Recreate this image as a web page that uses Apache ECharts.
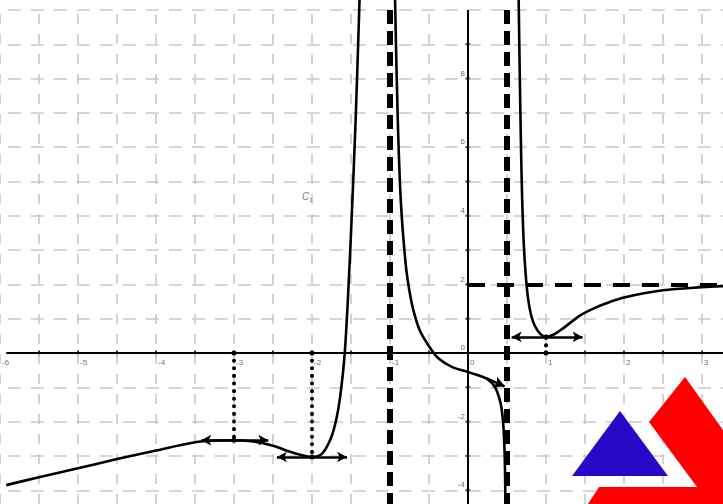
<!DOCTYPE html>
<html><head><meta charset="utf-8">
<script src="https://cdn.jsdelivr.net/npm/echarts@6/dist/echarts.min.js"></script>
<style>html,body{margin:0;padding:0;background:#fff}#c{width:723px;height:504px}</style>
</head><body><div id="c"></div>
<script>
// ---- view window ----
const xMin = -6, xMax = 3.27, yMin = -4.4, yMax = 10.29, gridTop = 10;
// ---- grid & ticks ----
const gridX = [-6,-5.5,-5,-4.5,-4,-3.5,-3,-2.5,-2,-1.5,-1,-0.5,0,0.5,1,1.5,2,2.5,3];
const gridY = [-4,-3,-2,-1,0,1,2,3,4,5,6,7,8,9,10];
const xTicks = [-5.5,-5,-4.5,-4,-3.5,-3,-2.5,-2,-1.5,-1,-0.5,0.5,1,1.5,2,2.5,3];
const yTicks = [-4,-3,-2,-1,1,2,3,4,5,6,7,8,9];
const xTickLabels = ['-6','-5','-4','-3','-2','-1','0','1','2','3'];
const xTickLabelPos = [-6,-5,-4,-3,-2,-1,0,1,2,3];
const yTickLabels = ['-4','-2','0','2','4','6','8'];
const yTickLabelPos = [-4,-2,0,2,4,6,8];
// ---- curve C1 ----
const leftX = [-5.92,-5.5,-5,-4.5,-4,-3.5,-3.25,-3,-2.75,-2.5,-2.25,-2,-1.87,-1.76,-1.69,-1.64,-1.58,-1.53,-1.49,-1.44,-1.39];
const leftY = [-3.85,-3.62,-3.36,-3.09,-2.84,-2.6,-2.55,-2.54,-2.58,-2.7,-2.9,-3.03,-2.93,-2.5,-1.95,-1.3,0,2,4,6.8,10.3];
const midX = [-0.935,-0.9,-0.86,-0.8,-0.75,-0.7,-0.62,-0.5,-0.38,-0.2,0,0.12,0.24];
const midY = [10.3,6.8,4.4,2.63,1.8,1.25,0.67,0.2,-0.15,-0.41,-0.55,-0.64,-0.74];
const downX = [0.24,0.31,0.36,0.40,0.43,0.45,0.465,0.475,0.48];
const downY = [-0.74,-0.88,-1.05,-1.3,-1.6,-2.0,-2.6,-3.4,-4.4];
const rightX = [0.65,0.665,0.68,0.695,0.715,0.74,0.77,0.81,0.86,0.93,1,1.1,1.22,1.44,1.65,1.82,2,2.5,3,3.27];
const rightY = [10.3,8,6,4.5,3.2,2.3,1.6,1.1,0.78,0.55,0.47,0.54,0.72,1.1,1.34,1.49,1.62,1.83,1.92,1.95];
// end arrow of the middle branch
const endArrow = [[0.24,-0.74],[0.47,-0.97]];
// ---- asymptotes ----
const vAsymptotes = [-1, 0.5];
const hAsymptote = 2, hAsymptoteFrom = 0;
// ---- extrema and tangents ----
const extremaX = [-3, -2, 1];
const extremaY = [-2.54, -3.03, 0.47];
const tangentFrom = [-3.42, -2.45, 0.56];
const tangentTo = [-2.56, -1.55, 1.47];
const curveName = 'C';
const curveLabelPos = [-2.06, 4.55];

const zip = (a, b) => a.map((v, i) => [v, b[i]]);
const gridCol = '#c9c9c9';
const ml = (data, lineStyle, extra) => Object.assign({
  silent: true, symbol: 'none', animation: false,
  label: { show: false }, emphasis: { disabled: true },
  lineStyle: lineStyle, data: data
}, extra || {});

const chart = echarts.init(document.getElementById('c'), null, { renderer: 'canvas' });
const series = [];
// grid lines
series.push({ type: 'line', data: [], z: 1,
  markLine: ml(gridX.map(x => [{ coord: [x, yMin] }, { coord: [x, gridTop] }]),
    { color: gridCol, width: 1.6, type: [10, 10] }) });
series.push({ type: 'line', data: [], z: 1,
  markLine: ml(gridY.map(y => [{ coord: [-5.9, y] }, { coord: [xMax, y] }]),
    { color: gridCol, width: 1.6, type: [13, 10] }) });
// axes
series.push({ type: 'line', data: [], z: 3,
  markLine: ml([[{ coord: [-5.92, 0] }, { coord: [xMax, 0] }], [{ coord: [0, gridTop] }, { coord: [0, yMin] }]],
    { color: '#000', width: 2, type: 'solid' }) });
// ticks
series.push({ type: 'scatter', z: 4, silent: true, symbol: 'rect', symbolSize: [2, 5],
  itemStyle: { color: '#000' }, data: xTicks.map(x => [x, 0]) });
series.push({ type: 'scatter', z: 4, silent: true, symbol: 'rect', symbolSize: [5, 2],
  itemStyle: { color: '#000' }, data: yTicks.map(y => [0, y]) });
// tick labels
const lblStyle = { fontSize: 8, color: '#4a4a4a', fontFamily: 'Liberation Sans' };
series.push({ type: 'scatter', z: 5, silent: true, symbolSize: 0,
  data: xTickLabelPos.map((x, i) => ({ value: [x, 0], label: { formatter: xTickLabels[i] } })),
  label: Object.assign({ show: true, position: 'inside', offset: [2, 10], align: 'left', verticalAlign: 'middle' }, lblStyle) });
series.push({ type: 'scatter', z: 5, silent: true, symbolSize: 0,
  data: yTickLabelPos.map((y, i) => ({ value: [0, y], label: { formatter: yTickLabels[i] } })),
  label: Object.assign({ show: true, position: 'inside', offset: [-3, -5], align: 'right', verticalAlign: 'middle' }, lblStyle) });
// asymptotes
series.push({ type: 'line', data: [], z: 6,
  markLine: ml(vAsymptotes.map(x => [{ coord: [x, gridTop] }, { coord: [x, yMin] }]),
    { color: '#000', width: 6, type: [14, 7] }) });
series.push({ type: 'line', data: [], z: 6,
  markLine: ml([[{ coord: [hAsymptoteFrom, hAsymptote] }, { coord: [xMax, hAsymptote] }]],
    { color: '#000', width: 4, type: [17, 12] }) });
// dotted projections
series.push({ type: 'line', data: [], z: 7,
  markLine: ml(extremaX.map((x, i) => [{ coord: [x, 0] }, { coord: [x, extremaY[i]] }]),
    { color: '#000', width: 4, type: [0.1, 7.5], cap: 'round' },
    { symbol: ['circle', 'circle'], symbolSize: 5 }) });
// curve branches
const curveStyle = { color: '#000', width: 2.6 };
[[leftX, leftY], [midX, midY], [downX, downY], [rightX, rightY]].forEach(([xs, ys]) => {
  series.push({ type: 'line', z: 8, silent: true, showSymbol: false, smooth: 0.3,
    lineStyle: curveStyle, data: zip(xs, ys), clip: true });
});
// end arrow
series.push({ type: 'line', data: [], z: 8,
  markLine: ml([[{ coord: endArrow[0] }, { coord: endArrow[1] }]],
    { color: '#000', width: 2.6, type: 'solid' },
    { symbol: ['none', 'arrow'], symbolSize: [9, 11] }) });
// tangent arrows
series.push({ type: 'line', data: [], z: 8,
  markLine: ml(extremaY.map((y, i) => [{ coord: [tangentFrom[i], y] }, { coord: [tangentTo[i], y] }]),
    { color: '#000', width: 2.6, type: 'solid' },
    { symbol: ['arrow', 'arrow'], symbolSize: [8, 10] }) });
// curve name
series.push({ type: 'scatter', z: 9, silent: true, symbolSize: 0, data: [curveLabelPos],
  label: { show: true, position: 'inside', formatter: '{c|' + curveName + '}{s|1}',
    rich: { c: { fontSize: 10, fontStyle: 'italic', color: '#555', fontFamily: 'Liberation Sans' },
            s: { fontSize: 6, color: '#555', verticalAlign: 'bottom', padding: [6, 0, 0, 0] } } } });

chart.setOption({
  animation: false,
  grid: { left: 0, right: 0, top: 0, bottom: 0 },
  xAxis: { type: 'value', min: xMin, max: xMax, show: false },
  yAxis: { type: 'value', min: yMin, max: yMax, show: false },
  series: series,
  graphic: [
    { type: 'polygon', z: 100, shape: { points: [[572,476],[668,476],[620,411]] }, style: { fill: '#2a08c8' } },
    { type: 'polygon', z: 100, shape: { points: [[685,377],[723,430],[723,504],[588,504],[599,487],[697,487],[649,422]] }, style: { fill: '#ff0000' } }
  ]
});
</script></body></html>
